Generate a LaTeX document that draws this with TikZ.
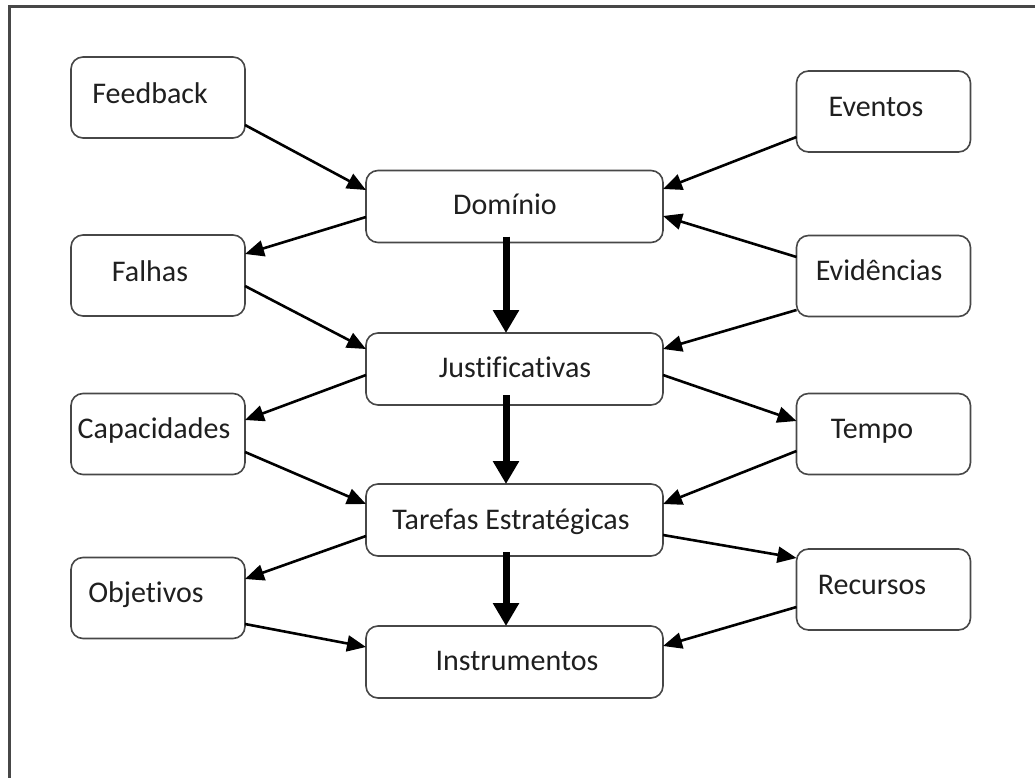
\documentclass[tikz,border=0pt]{standalone}
\usepackage{fontspec}
\setmainfont{Carlito}[Ligatures=NoCommon]
\usetikzlibrary{arrows.meta}
\tikzset{
  box/.style={draw=black!72, line width=1.6pt, rounded corners=12pt, fill=white,
    inner sep=0pt, outer sep=0pt},
  smallbox/.style={box, minimum width=174pt, minimum height=81pt},
  bigbox/.style={box, minimum width=297pt, minimum height=72pt},
  lbl/.style={anchor=base, inner sep=0pt, text=black!88,
    font=\fontsize{30}{36}\selectfont},
  link/.style={line width=2.6pt, -{Triangle[length=19pt,width=16pt]}},
  flow/.style={line width=7pt, -{Triangle[length=23pt,width=25pt]}},
  frame/.style={draw=black!72, line width=3pt}
}
\begin{document}
\begin{tikzpicture}[x=1pt, y=-1pt]
\useasboundingbox (0,0) rectangle (1035,778);
\fill[white] (0,0) rectangle (1035,778);
% outer frame (only its top and left edges fall inside the page)
\draw[frame] (9,790) -- (9,7) -- (1045,7);

% central chain
\node[bigbox] (dom) at (514.5,206.5) {};
\node[bigbox] (jus) at (514.5,369) {};
\node[bigbox] (tar) at (514.5,520) {};
\node[bigbox] (ins) at (514.5,662) {};
\node[lbl] (domt) at (505,214) {Domínio};
\node[lbl] (just) at (515,377) {Justificativas};
\node[lbl] (tart) at (511,529) {Tarefas Estratégicas};
\node[lbl] (inst) at (517,670) {Instrumentos};

% left column
\node[smallbox] (fb)  at (158,97.5) {};
\node[smallbox] (fal) at (158,275.5) {};
\node[smallbox] (cap) at (158,434) {};
\node[smallbox] (obj) at (158,598) {};
\node[lbl] (fbt)  at (150,104) {Feedback};
\node[lbl] (falt) at (150,281) {Falhas};
\node[lbl] (capt) at (154,438) {Capacidades};
\node[lbl] (objt) at (146,602) {Objetivos};

% right column
\node[smallbox] (ev)  at (883.5,111.5) {};
\node[smallbox] (evi) at (883.5,276) {};
\node[smallbox] (tem) at (883.5,434) {};
\node[smallbox] (rec) at (883.5,589.5) {};
\node[lbl] (evt)  at (876,117) {Eventos};
\node[lbl] (evit) at (879,280) {Evidências};
\node[lbl] (temt) at (872,438) {Tempo};
\node[lbl] (rect) at (872,594) {Recursos};

% thin connectors
\draw[link] ([yshift=-27.5pt]fb.east) -- ([yshift=16.5pt]dom.west);
\draw[link] ([yshift=-10.5pt]dom.west) -- ([yshift=21.5pt]fal.east);
\draw[link] ([yshift=-25.5pt]ev.west) -- ([yshift=17.5pt]dom.east);
\draw[link] ([yshift=19pt]evi.west) -- ([yshift=-9.5pt]dom.east);
\draw[link] ([yshift=-10.5pt]fal.east) -- ([yshift=20pt]jus.west);
\draw[link] ([yshift=-34pt]evi.west) -- ([yshift=20pt]jus.east);
\draw[link] ([yshift=-6pt]jus.west) -- ([yshift=14pt]cap.east);
\draw[link] ([yshift=-6pt]jus.east) -- ([yshift=13pt]tem.west);
\draw[link] ([yshift=-18pt]cap.east) -- ([yshift=16pt]tar.west);
\draw[link] ([yshift=-17pt]tem.west) -- ([yshift=16pt]tar.east);
\draw[link] ([yshift=-16pt]tar.west) -- ([yshift=19pt]obj.east);
\draw[link] ([yshift=-15pt]tar.east) -- ([yshift=31.5pt]rec.west);
\draw[link] ([yshift=-26pt]obj.east) -- ([yshift=15pt]ins.west);
\draw[link] ([yshift=-17.5pt]rec.west) -- ([yshift=16pt]ins.east);

% thick main flow
\draw[flow] ([xshift=-8.5pt,yshift=6pt]dom.south) -- ([xshift=-8.5pt]jus.north);
\draw[flow] ([xshift=-8.5pt,yshift=10pt]jus.south) -- ([xshift=-8.5pt]tar.north);
\draw[flow] ([xshift=-8.5pt,yshift=4pt]tar.south) -- ([xshift=-8.5pt]ins.north);
\end{tikzpicture}
\end{document}
